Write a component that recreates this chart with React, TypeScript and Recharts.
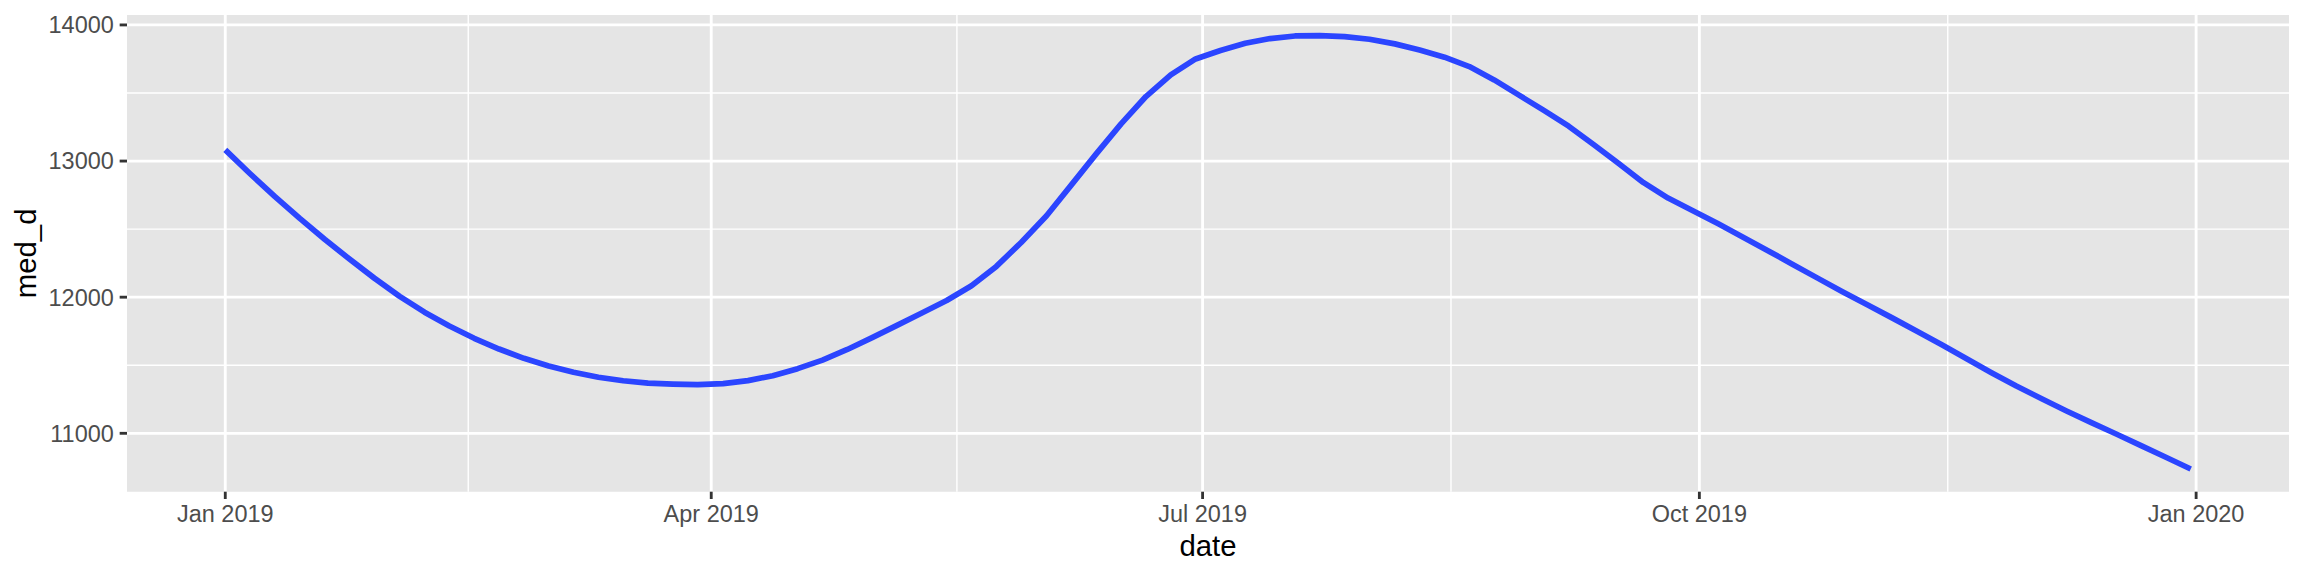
import React from 'react';
import {
  LineChart,
  Line,
  XAxis,
  YAxis,
  ReferenceArea,
  ReferenceLine,
} from 'recharts';

// days since 2019-01-01 (80 evenly spaced smoother points)
const dayOffsets = [
  0, 4.6, 9.2, 13.8, 18.4, 23.0, 27.6, 32.3, 36.9, 41.5,
  46.1, 50.7, 55.3, 59.9, 64.5, 69.1, 73.7, 78.3, 82.9, 87.5,
  92.2, 96.8, 101.4, 106.0, 110.6, 115.2, 119.8, 124.4, 129.0, 133.6,
  138.2, 142.8, 147.4, 152.1, 156.7, 161.3, 165.9, 170.5, 175.1, 179.7,
  184.3, 188.9, 193.5, 198.1, 202.7, 207.3, 211.9, 216.6, 221.2, 225.8,
  230.4, 235.0, 239.6, 244.2, 248.8, 253.4, 258.0, 262.6, 267.2, 271.8,
  276.5, 281.1, 285.7, 290.3, 294.9, 299.5, 304.1, 308.7, 313.3, 317.9,
  322.5, 327.1, 331.7, 336.4, 341.0, 345.6, 350.2, 354.8, 359.4, 364.0,
];

const medD = [
  13082, 12907, 12739, 12579, 12426, 12280, 12140, 12006, 11890, 11788,
  11698, 11619, 11551, 11494, 11448, 11412, 11386, 11369, 11361, 11357,
  11365, 11387, 11423, 11475, 11538, 11616, 11703, 11793, 11884, 11976,
  12084, 12226, 12402, 12598, 12825, 13053, 13273, 13474, 13633, 13750,
  13812, 13865, 13900, 13919, 13922, 13914, 13895, 13861, 13816, 13763,
  13694, 13596, 13484, 13372, 13256, 13122, 12984, 12843, 12728, 12635,
  12539, 12441, 12341, 12241, 12140, 12040, 11945, 11848, 11750, 11651,
  11548, 11445, 11347, 11254, 11164, 11078, 10995, 10909, 10824, 10738,
];

const xTicks = [0, 90, 181, 273, 365];
const xTickLabels = ['Jan 2019', 'Apr 2019', 'Jul 2019', 'Oct 2019', 'Jan 2020'];
const xMinor = [45, 135.5, 227, 319];
const yTicks = [11000, 12000, 13000, 14000];
const yMinor = [11500, 12500, 13500];

const X_DOMAIN: [number, number] = [-18.2, 382.2];
const Y_DOMAIN: [number, number] = [10571, 14073];

const data = dayOffsets.map((d, i) => ({ day: d, med_d: medD[i] }));

const FONT = '"Liberation Sans", Arial, Helvetica, sans-serif';
const MAJOR = 2.85;
const MINOR = 1.42;

const tickStyle = { fill: '#4D4D4D', fontSize: 23.47, fontFamily: FONT };

export default function App() {
  return (
    <div style={{ position: 'absolute', left: 0, top: 0, background: '#fff' }}>
      <LineChart
        width={2304}
        height={576}
        data={data}
        margin={{ top: 15, right: 15, bottom: 0, left: 0 }}
      >
        <XAxis
          type="number"
          dataKey="day"
          domain={X_DOMAIN}
          allowDataOverflow
          ticks={xTicks}
          interval={0}
          tickFormatter={(v: number) => xTickLabels[xTicks.indexOf(v)] ?? ''}
          height={84.3}
          axisLine={false}
          tickSize={7.33}
          tickMargin={6}
          tickLine={{ stroke: '#333333', strokeWidth: MAJOR }}
          tick={tickStyle}
          label={{
            content: ({ viewBox }: any) => (
              <text
                x={viewBox.x + viewBox.width / 2}
                y={viewBox.y + 64}
                textAnchor="middle"
                fontSize={29.33}
                fontFamily={FONT}
                fill="#000"
              >
                date
              </text>
            ),
          }}
        />
        <YAxis
          type="number"
          domain={Y_DOMAIN}
          allowDataOverflow
          ticks={yTicks}
          interval={0}
          width={127}
          axisLine={false}
          tickSize={7.33}
          tickMargin={5.87}
          tickLine={{ stroke: '#333333', strokeWidth: MAJOR }}
          tick={tickStyle}
          label={{
            content: ({ viewBox }: any) => {
              const cx = viewBox.x + 36;
              const cy = viewBox.y + viewBox.height / 2;
              return (
                <text
                  x={cx}
                  y={cy}
                  transform={`rotate(-90, ${cx}, ${cy})`}
                  textAnchor="middle"
                  fontSize={29.33}
                  fontFamily={FONT}
                  fill="#000"
                >
                  med_d
                </text>
              );
            },
          }}
        />
        <ReferenceArea
          x1={X_DOMAIN[0]}
          x2={X_DOMAIN[1]}
          y1={Y_DOMAIN[0]}
          y2={Y_DOMAIN[1]}
          fill="#E5E5E5"
          fillOpacity={1}
          stroke="none"
          zIndex={-200}
        />
        {yMinor.map((v) => (
          <ReferenceLine key={`ym${v}`} y={v} stroke="#fff" strokeWidth={MINOR} zIndex={-150} />
        ))}
        {xMinor.map((v) => (
          <ReferenceLine key={`xm${v}`} x={v} stroke="#fff" strokeWidth={MINOR} zIndex={-150} />
        ))}
        {yTicks.map((v) => (
          <ReferenceLine key={`y${v}`} y={v} stroke="#fff" strokeWidth={MAJOR} zIndex={-100} />
        ))}
        {xTicks.map((v) => (
          <ReferenceLine key={`x${v}`} x={v} stroke="#fff" strokeWidth={MAJOR} zIndex={-100} />
        ))}
        <Line
          type="linear"
          dataKey="med_d"
          stroke="#2B45FF"
          strokeWidth={5.7}
          strokeLinejoin="round"
          dot={false}
          activeDot={false}
          isAnimationActive={false}
        />
      </LineChart>
    </div>
  );
}
